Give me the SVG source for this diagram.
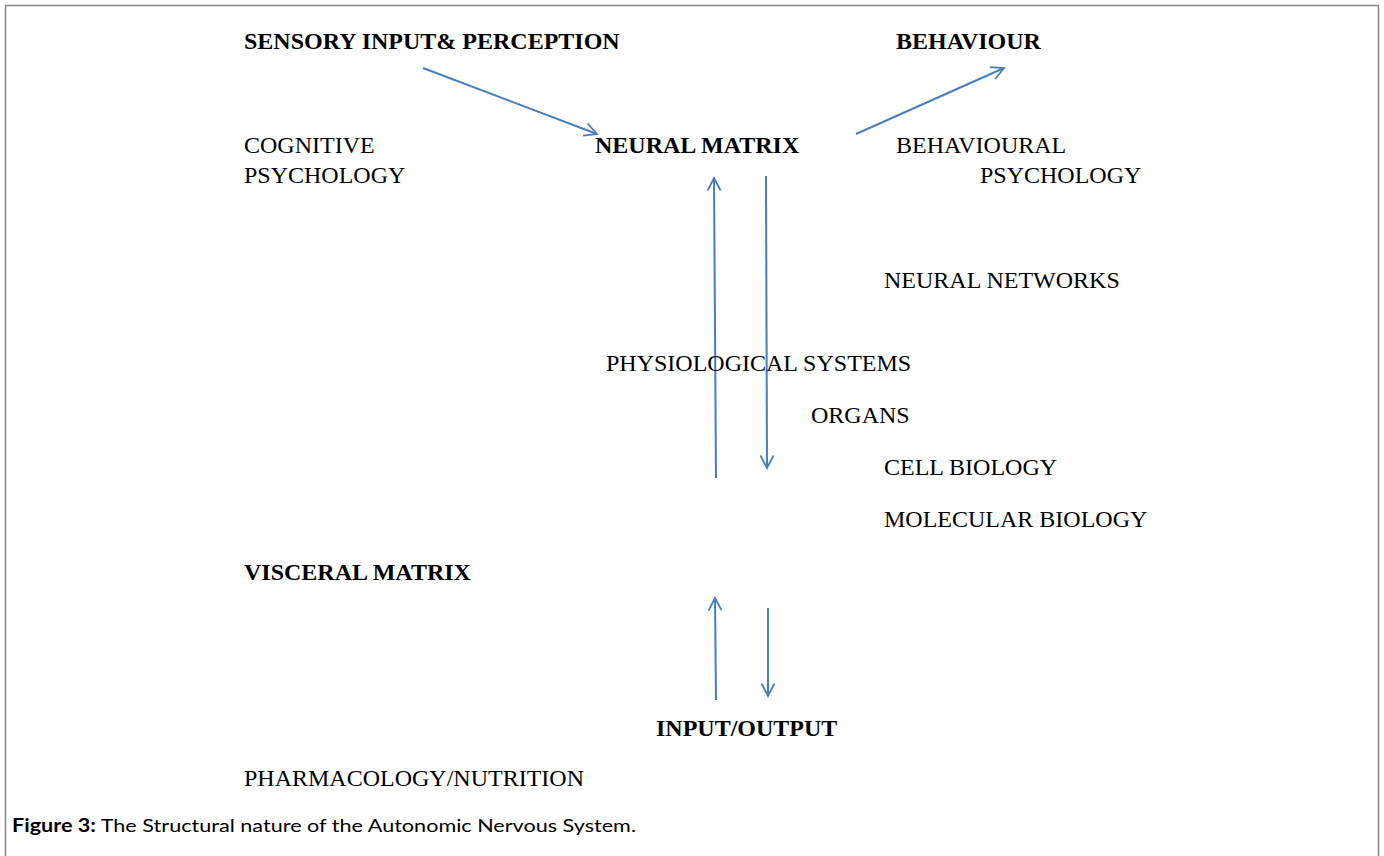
<svg xmlns="http://www.w3.org/2000/svg" width="1384" height="856" viewBox="0 0 1384 856">
<defs>
<style>
.t{font-family:"Liberation Serif","Times New Roman",serif;font-size:24px;fill:#000}
.b{font-weight:bold}
.cap{font-family:Lato,"Liberation Sans",Arial,sans-serif;font-size:18px;fill:#000}
.c{stroke:#4a7ebb;stroke-width:2;fill:none;marker-end:url(#ah)}
</style>
<marker id="ah" viewBox="0 0 16 16" refX="14" refY="8" markerWidth="16" markerHeight="16" markerUnits="userSpaceOnUse" orient="auto">
<path d="M1.5,1.5 L14,8 L1.5,14.5" fill="none" stroke="#4a7ebb" stroke-width="1.8"/>
</marker>
</defs>
<rect x="0" y="0" width="1384" height="856" fill="#fff"/>
<path d="M5.5,870 V5.5 H1378.5 V870" fill="none" stroke="#888" stroke-width="1.5"/>
<g id="connectors">
<line class="c" x1="423" y1="68" x2="597" y2="134"/>
<line class="c" x1="856" y1="134" x2="1004" y2="68"/>
<line class="c" x1="716" y1="478" x2="714" y2="178"/>
<line class="c" x1="766" y1="176" x2="767" y2="468"/>
<line class="c" x1="716" y1="700" x2="715" y2="598"/>
<line class="c" x1="768" y1="608" x2="768" y2="696"/>
</g>
<g id="sensory"><text class="t b" x="244" y="49">SENSORY INPUT&amp; PERCEPTION</text></g>
<g id="behaviour"><text class="t b" x="896" y="49">BEHAVIOUR</text></g>
<g id="cognitive"><text class="t" x="244" y="153">COGNITIVE</text><text class="t" x="244" y="183">PSYCHOLOGY</text></g>
<g id="neural-matrix"><text class="t b" x="595" y="153">NEURAL MATRIX</text></g>
<g id="behavioural"><text class="t" x="896" y="153">BEHAVIOURAL</text><text class="t" x="980" y="183">PSYCHOLOGY</text></g>
<g id="neural-networks"><text class="t" x="884" y="288">NEURAL NETWORKS</text></g>
<g id="physiological"><text class="t" x="606" y="371">PHYSIOLOGICAL SYSTEMS</text></g>
<g id="organs"><text class="t" x="811" y="423">ORGANS</text></g>
<g id="cell-biology"><text class="t" x="884" y="475">CELL BIOLOGY</text></g>
<g id="molecular-biology"><text class="t" x="884" y="527">MOLECULAR BIOLOGY</text></g>
<g id="visceral-matrix"><text class="t b" x="244" y="580">VISCERAL MATRIX</text></g>
<g id="input-output"><text class="t b" x="656" y="736">INPUT/OUTPUT</text></g>
<g id="pharmacology"><text class="t" x="244" y="786">PHARMACOLOGY/NUTRITION</text></g>
<g id="caption"><text class="cap" x="12" y="832" textLength="624" lengthAdjust="spacingAndGlyphs"><tspan font-weight="bold">Figure 3:</tspan> The Structural nature of the Autonomic Nervous System.</text></g>
</svg>
